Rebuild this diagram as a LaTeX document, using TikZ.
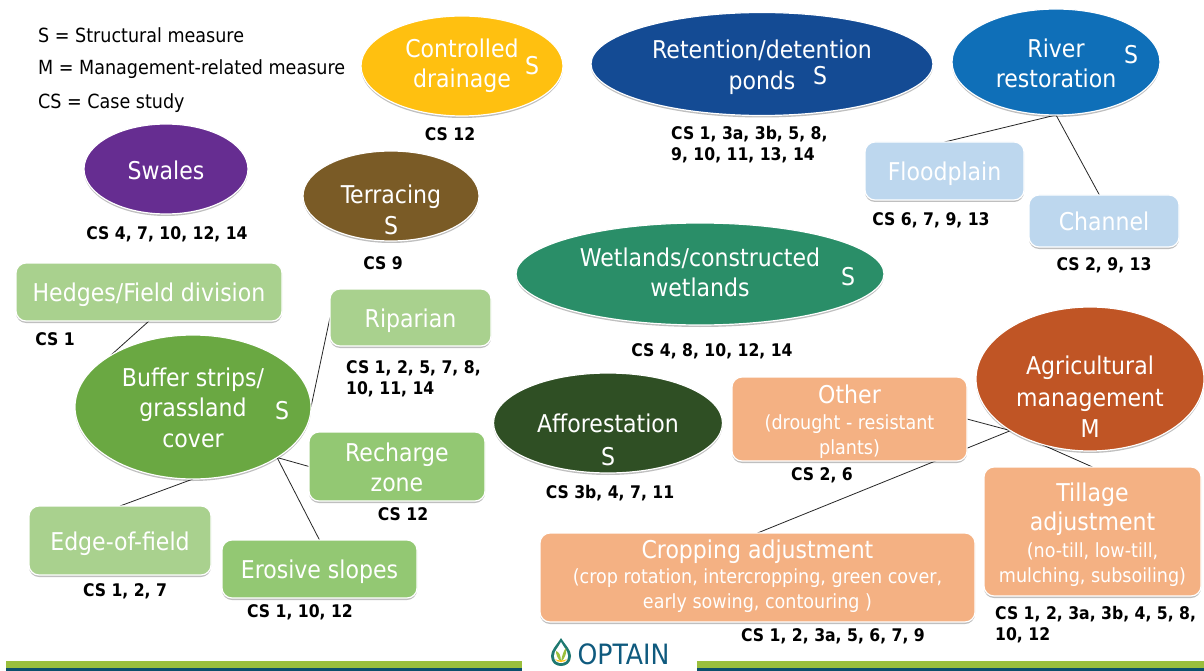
\documentclass[tikz,border=0pt]{standalone}
\usepackage{fontspec}
\usetikzlibrary{shapes.geometric,shadows}
\setmainfont{DejaVu Sans Condensed}
\newcommand\bigf{\fontsize{24.5}{30}\selectfont}
\newcommand\smf{\fontsize{19.5}{24}\selectfont}
\newcommand\csf{\fontsize{17.4}{21}\selectfont\bfseries}
\newcommand\lift[3]{\raisebox{#1pt}[0pt][0pt]{\fontsize{24.5}{#2}\selectfont\begin{tabular}{@{}c@{}}#3\end{tabular}}}
\pgfdeclarelayer{bg}
\pgfsetlayers{bg,main}
\tikzset{
  soft/.style={drop shadow={shadow xshift=0pt,shadow yshift=-2pt,fill=black,opacity=.25}},
  oval/.style={shape=ellipse,draw=white,line width=1.2pt,soft,text=white,inner sep=0pt,outer sep=0pt,font=\bigf},
  boxn/.style={shape=rectangle,rounded corners=10pt,draw=white,line width=1.2pt,soft,text=white,inner sep=0pt,outer sep=0pt,font=\bigf},
  mark s/.style={text=white,font=\bigf,inner sep=0pt},
  cs/.style={text=black,font=\csf,inner sep=0pt},
  csl/.style={cs,align=left,anchor=west},
  legend/.style={text=black,font=\fontsize{19.5}{22}\selectfont,inner sep=0pt,anchor=west},
  link/.style={draw=black!85,line width=.8pt},
}
\definecolor{cyellow}{HTML}{FFC010}
\definecolor{cnavy}{HTML}{144B94}
\definecolor{cblue}{HTML}{0F6FB8}
\definecolor{cpurple}{HTML}{662D91}
\definecolor{cbrown}{HTML}{7A5B26}
\definecolor{cteal}{HTML}{2A8E68}
\definecolor{cgreen}{HTML}{6AA842}
\definecolor{cforest}{HTML}{2F4F24}
\definecolor{crust}{HTML}{C05525}
\definecolor{lgreen}{HTML}{A9D18E}
\definecolor{mgreen}{HTML}{93C873}
\definecolor{lblue}{HTML}{BDD7EE}
\definecolor{lorange}{HTML}{F4B183}
\definecolor{barg}{HTML}{9ABF3D}
\definecolor{barn}{HTML}{0B4F6C}
\definecolor{logob}{HTML}{0F5A7E}
\begin{document}
\begin{tikzpicture}[x=1pt,y=-1pt]
\useasboundingbox (0,0) rectangle (1204,671);
\begin{pgfonlayer}{bg}
\fill[white] (0,0) rectangle (1204,671);
\end{pgfonlayer}
% legend
\node[legend] (l1) at (38,35) {S = Structural measure};
\node[legend] (l2) at (38,69) {M = Management-related measure};
\node[legend] (l3) at (38,103) {CS = Case study};
% ovals
\node[oval,fill=cyellow,minimum width=202pt,minimum height=100pt] (drain) at (462,66) {\lift{-7}{30}{Controlled\\drainage}};
\node[oval,fill=cnavy,minimum width=342pt,minimum height=103pt] (ponds) at (762,64) {\lift{-10}{31}{Retention/detention\\ponds}};
\node[oval,fill=cblue,minimum width=208pt,minimum height=106pt] (river) at (1056,62) {\lift{-11}{30}{River\\restoration}};
\node[oval,fill=cpurple,minimum width=164pt,minimum height=90pt] (swales) at (166,169) {\lift{-11}{30}{Swales}};
\node[oval,fill=cbrown,minimum width=176pt,minimum height=90pt] (terrace) at (391,196) {\lift{-23}{31}{Terracing\\S}};
\node[oval,fill=cteal,minimum width=368pt,minimum height=102pt] (wet) at (700,274) {\lift{-8}{30}{Wetlands/constructed\\wetlands}};
\node[oval,fill=cgreen,minimum width=236pt,minimum height=144pt] (buffer) at (193,407) {\lift{-10}{30.5}{Buffer strips/\\grassland\\cover}};
\node[oval,fill=cforest,minimum width=229pt,minimum height=100pt] (affor) at (608,423) {\lift{-26}{33}{Afforestation\\S}};
\node[oval,fill=crust,minimum width=228pt,minimum height=144pt] (agri) at (1090,379) {\lift{-27}{31.5}{Agricultural\\management\\M}};
% S marks
\node[mark s] (sa) at (532,66) {S};
\node[mark s] (sb) at (820,76) {S};
\node[mark s] (sc) at (1131,55) {S};
\node[mark s] (sd) at (848,277) {S};
\node[mark s] (se) at (282,411) {S};
% boxes
\node[boxn,fill=lgreen,minimum width=266pt,minimum height=58pt] (hedges) at (149,292) {\lift{-10}{30}{Hedges/Field division}};
\node[boxn,fill=lgreen,minimum width=161pt,minimum height=57pt] (ripar) at (410.5,317.5) {\lift{-10}{30}{Riparian}};
\node[boxn,fill=mgreen,minimum width=176pt,minimum height=69pt] (rech) at (397,466.5) {\lift{-10}{30}{Recharge\\zone}};
\node[boxn,fill=mgreen,minimum width=195pt,minimum height=58pt] (eros) at (319.5,569) {\lift{-10}{30}{Erosive slopes}};
\node[boxn,fill=lgreen,minimum width=182pt,minimum height=69pt] (edge) at (120,540.5) {\lift{-10}{30}{Edge-of-field}};
\node[boxn,fill=lblue,minimum width=159pt,minimum height=58pt] (flood) at (944.5,171) {\lift{-10}{30}{Floodplain}};
\node[boxn,fill=lblue,minimum width=150pt,minimum height=52pt] (chan) at (1104,221) {\lift{-10}{30}{Channel}};
\node[boxn,fill=lorange,minimum width=235pt,minimum height=84pt] (other) at (849.5,419) {\lift{-11}{25}{Other\\[1pt]\smf (drought - resistant\\\smf plants)}};
\node[boxn,fill=lorange,minimum width=435pt,minimum height=89pt] (crop) at (757.5,577.5) {\lift{-7}{25}{Cropping adjustment\\\smf (crop rotation, intercropping, green cover,\\\smf early sowing, contouring )}};
\node[boxn,fill=lorange,minimum width=217pt,minimum height=129pt] (till) at (1092.5,531.5) {\lift{-11}{27}{Tillage\\[2pt]adjustment\\\smf (no-till, low-till,\\[-2pt]\smf mulching, subsoiling)}};
% connectors
\begin{pgfonlayer}{bg}
\draw[link] (hedges.south) -- (buffer.148.5);
\draw[link] (ripar.west) -- (buffer.east);
\draw[link] (rech.west) -- (buffer.329);
\draw[link] (eros.north) -- (buffer.329);
\draw[link] (edge.north) -- (buffer.south);
\draw[link] (river.south) -- (flood.north);
\draw[link] (river.south) -- (chan.100);
\draw[link] (other.east) -- (agri.213);
\draw[link] (till.north) -- (agri.213);
\draw[link] (crop.north) -- (agri.213);
\end{pgfonlayer}
% case-study labels
\node[cs] (c1) at (450,134) {CS 12};
\node[csl] (c2) at (671,145) {CS 1, 3a, 3b, 5, 8,\\9, 10, 11, 13, 14};
\node[cs] (c3) at (167,234) {CS 4, 7, 10, 12, 14};
\node[cs] (c4) at (383,263) {CS 9};
\node[cs] (c5) at (55,339) {CS 1};
\node[csl] (c6) at (346,378.5) {CS 1, 2, 5, 7, 8,\\10, 11, 14};
\node[cs] (c7) at (931,220) {CS 6, 7, 9, 13};
\node[cs] (c8) at (1104,265) {CS 2, 9, 13};
\node[cs] (c9) at (712,351) {CS 4, 8, 10, 12, 14};
\node[cs] (c10) at (610,493) {CS 3b, 4, 7, 11};
\node[cs] (c11) at (822,475) {CS 2, 6};
\node[cs] (c12) at (403,514) {CS 12};
\node[cs] (c13) at (125,591) {CS 1, 2, 7};
\node[cs] (c14) at (300,612) {CS 1, 10, 12};
\node[cs] (c15) at (833,636) {CS 1, 2, 3a, 5, 6, 7, 9};
\node[csl] (c16) at (995,624.5) {CS 1, 2, 3a, 3b, 4, 5, 8,\\10, 12};
% footer
\fill[barg] (6,661) rectangle (522,668);
\fill[barn] (6,668) rectangle (522,671);
\fill[barg] (697,661) rectangle (1204,668);
\fill[barn] (697,668) rectangle (1204,671);
% logo
\fill[cteal!60!logob] (561,638) .. controls (556,646) and (551,650) .. (551,656) .. controls (551,663) and (556,666) .. (561,666) .. controls (566,666) and (571,663) .. (571,656) .. controls (571,650) and (566,646) .. (561,638) -- cycle;
\fill[white] (561,642) .. controls (558,648) and (554,651) .. (554,656) .. controls (554,661) and (557,663) .. (561,663) .. controls (565,663) and (568,661) .. (568,656) .. controls (568,651) and (564,648) .. (561,642) -- cycle;
\fill[barg] (561,662) .. controls (557,658) and (556,654) .. (556,651) .. controls (559,652) and (561,655) .. (561,662) -- cycle;
\fill[barg] (561,662) .. controls (562,655) and (564,650) .. (566,648) .. controls (567,653) and (565,658) .. (561,662) -- cycle;
\fill[cyellow] (555,659) .. controls (558,661) and (564,661) .. (567,659) .. controls (565,663) and (557,663) .. (555,659) -- cycle;
\node[text=logob,font=\fontsize{28}{30}\selectfont,inner sep=0pt,anchor=center] (logo) at (623.5,654) {OPTAIN};
\end{tikzpicture}
\end{document}
